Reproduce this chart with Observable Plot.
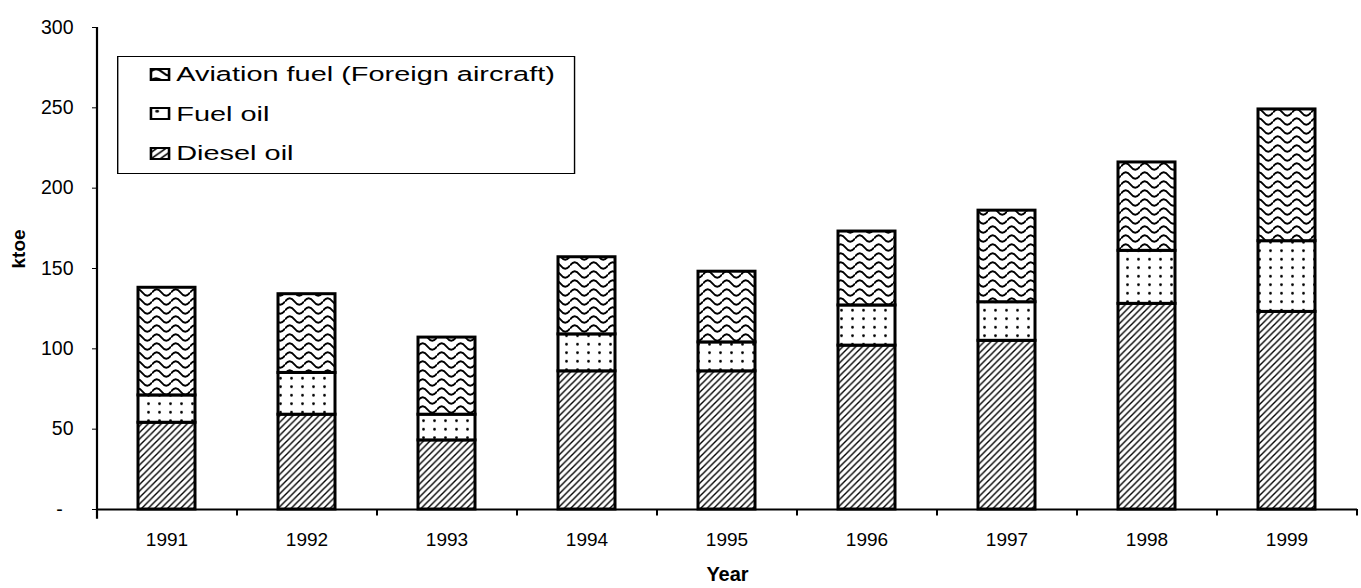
<!DOCTYPE html>
<html><head><meta charset="utf-8">
<script src="https://cdn.jsdelivr.net/npm/d3@7"></script>
<script src="https://cdn.jsdelivr.net/npm/@observablehq/plot@0.6"></script>
<style>
body{margin:0;background:#fff;font-family:"Liberation Sans",Arial,sans-serif;}
#wrap{position:relative;width:1361px;height:588px;}
#wrap svg text{fill:#000;}
#legend{position:absolute;left:117px;top:56px;width:325px;height:118px;border:1.5px solid #000;box-sizing:border-box;background:#fff;transform:scaleX(1.41);transform-origin:0 0;}
.item{position:absolute;left:22px;height:24px;display:flex;align-items:center;font-size:20.5px;line-height:24px;white-space:nowrap;color:#000;}
.item svg{margin-right:4px;}
</style></head><body>
<svg width="0" height="0" style="position:absolute">
<defs>
<pattern id="pDiesel" patternUnits="userSpaceOnUse" width="6.5" height="6.5">
 <rect width="6.5" height="6.5" fill="#fff"/>
 <path d="M-1,1 L1,-1 M0,6.5 L6.5,0 M5.5,7.5 L7.5,5.5" stroke="#000" stroke-width="1.4"/>
</pattern>
<pattern id="pFuel" patternUnits="userSpaceOnUse" width="11" height="8.5">
 <rect width="11" height="8.5" fill="#fff"/>
 <circle cx="5.5" cy="4.25" r="1.4" fill="#000"/>
</pattern>
<pattern id="pAviation" patternUnits="userSpaceOnUse" width="19" height="9">
 <rect width="19" height="9" fill="#fff"/>
 <path d="M0,4.5 Q4.75,-1.8 9.5,4.5 T19,4.5" fill="none" stroke="#000" stroke-width="2"/>
</pattern>
</defs></svg>
<div id="wrap"></div>
<script>
const years = ["1991","1992","1993","1994","1995","1996","1997","1998","1999"];
const series = ["Diesel oil","Fuel oil","Aviation fuel (Foreign aircraft)"];
const diesel   = [54, 59, 43, 86, 86, 102, 105, 128, 123];
const fuelOil  = [17, 26, 16, 23, 18, 25, 24, 33, 44];
const aviation = [67, 49, 48, 48, 44, 46, 57, 55, 82];
const yTicks = [0, 50, 100, 150, 200, 250, 300];
const patterns = ["url(#pDiesel)","url(#pFuel)","url(#pAviation)"];

const rows = years.flatMap((yr, i) => [
  {year: yr, type: series[0], value: diesel[i]},
  {year: yr, type: series[1], value: fuelOil[i]},
  {year: yr, type: series[2], value: aviation[i]}
]);

const W = 1361, H = 588, mL = 97, mR = 4, mT = 27, mB = 79;
const step = (W - mL - mR) / years.length;

const chart = Plot.plot({
  width: W, height: H, marginLeft: mL, marginRight: mR, marginTop: mT, marginBottom: mB,
  style: {fontFamily: '"Liberation Sans", Arial, sans-serif', fontSize: "18px", color: "#000", background: "#fff", overflow: "visible"},
  x: {domain: years, paddingInner: 0.59, paddingOuter: 0.295, tickSize: 0, tickPadding: 23, label: null},
  y: {domain: [0, 300], ticks: yTicks, tickFormat: d => d === 0 ? "-\u00a0\u00a0" : d, tickSize: 5, tickPadding: 19, label: null},
  color: {domain: series, range: patterns},
  marks: [
    Plot.barY(rows, {x: "year", y: "value", fill: "type", stroke: "#000", strokeWidth: 3}),
    Plot.ruleY([0], {stroke: "#000", strokeWidth: 2}),
    Plot.ruleX([years[0]], {x: d => d, y1: -6, y2: 300, dx: -step / 2, stroke: "#000", strokeWidth: 2.2}),
    Plot.ruleX(years, {x: d => d, y1: 0, y2: -4, dx: step / 2, stroke: "#000", strokeWidth: 2}),
    Plot.text(["ktoe"], {text: d => d, frameAnchor: "left", dx: -79, rotate: -90, fontWeight: "bold", fontSize: 19}),
    Plot.text(["Year"], {text: d => d, frameAnchor: "bottom", dy: 71, fontWeight: "bold", fontSize: 20})
  ]
});

// adjust tick label sizes per axis
d3.select(chart).selectAll("g[aria-label^='x-axis'] text").style("font-size", "19px");
d3.select(chart).selectAll("g[aria-label^='y-axis'] text").style("font-size", "19.5px");

const wrap = d3.select("#wrap");
wrap.node().append(chart);
const leg = wrap.append("div").attr("id", "legend");
[2, 1, 0].forEach((k, j) => {
  const item = leg.append("div").attr("class", "item").style("top", (5 + j * 39.5) + "px");
  const sw = item.append("svg").attr("width", 15).attr("height", 13);
  sw.append("rect").attr("x", 1).attr("y", 1).attr("width", 13).attr("height", 11)
    .attr("fill", patterns[k]).attr("stroke", "#000").attr("stroke-width", 2);
  item.append("span").text(series[k]);
});
</script>
</body></html>
